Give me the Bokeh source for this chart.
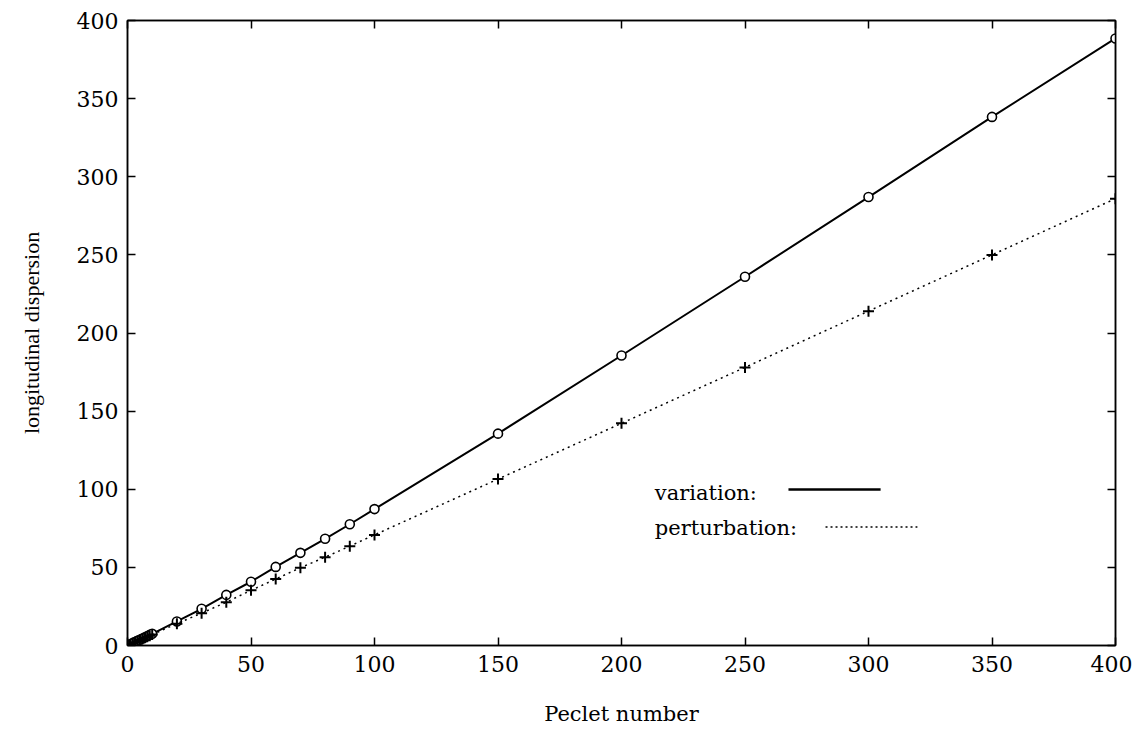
from bokeh.plotting import figure
from bokeh.models import LinearAxis, Range1d, FixedTicker, Label
from bokeh.embed import file_html
from bokeh.resources import INLINE

# Data
peclet = [1, 2, 3, 4, 5, 6, 7, 8, 9, 10, 20, 30, 40, 50, 60, 70, 80, 90, 100,
          150, 200, 250, 300, 350, 400]
variation = [0.7, 1.5, 2.2, 3.0, 3.7, 4.5, 5.2, 6.0, 6.8, 7.5, 15.4, 23.5, 32.4,
             40.8, 50.3, 59.3, 68.3, 77.6, 87.3, 135.6, 185.6, 236.0, 287.0,
             338.3, 388.5]
perturbation = [0.7, 1.4, 2.1, 2.8, 3.5, 4.2, 4.9, 5.6, 6.3, 7.0, 14.0, 20.7, 27.7,
                35.3, 42.5, 49.8, 56.5, 63.6, 70.8, 106.5, 142.2, 178.0, 214.0,
                250.0, 286.0]
ticks = [0, 50, 100, 150, 200, 250, 300, 350, 400]

SERIF = "DejaVu Serif"

p = figure(width=1132, height=732, output_backend="svg", toolbar_location=None,
           x_range=Range1d(0, 400), y_range=Range1d(0, 400),
           min_border_left=127, min_border_right=17, min_border_top=20,
           min_border_bottom=87)
p.grid.visible = False
p.outline_line_color = "black"
p.outline_line_width = 1.5
p.background_fill_color = "white"
p.border_fill_color = "white"

for ax in (p.xaxis[0], p.yaxis[0]):
    ax.ticker = FixedTicker(ticks=ticks)
    ax.major_tick_in = 8
    ax.major_tick_out = 0
    ax.minor_tick_line_color = None
    ax.axis_line_color = "black"
    ax.axis_line_width = 1.5
    ax.major_tick_line_width = 1.5
    ax.major_label_text_font = SERIF
    ax.major_label_text_font_size = "22px"
    ax.major_label_text_color = "black"
    ax.axis_label_text_font_style = "normal"
    ax.axis_label_text_color = "black"

p.xaxis.axis_label = "Peclet number"
p.xaxis.axis_label_text_font = SERIF
p.xaxis.axis_label_text_font_size = "21px"
p.xaxis.major_label_standoff = 10
p.xaxis.axis_label_standoff = 27

p.yaxis.axis_label = "longitudinal dispersion"
p.yaxis.axis_label_text_font = "Liberation Serif"
p.yaxis.axis_label_text_font_size = "22px"
p.yaxis.major_label_standoff = 9
p.yaxis.axis_label_standoff = 30

for loc in ("right", "above"):
    ax = LinearAxis(ticker=FixedTicker(ticks=ticks), major_tick_in=8, major_tick_out=0,
                    minor_tick_line_color=None, axis_line_color="black",
                    axis_line_width=1.5, major_tick_line_width=1.5,
                    major_label_overrides={t: "" for t in ticks},
                    major_label_standoff=0)
    p.add_layout(ax, loc)

# Series
p.line(peclet, variation, line_color="black", line_width=2)
p.scatter(peclet, variation, marker="circle", size=9, fill_color="white",
          line_color="black", line_width=1.6)
p.line(peclet, perturbation, line_color="black", line_width=1.5, line_dash="2 4")
p.scatter(peclet, perturbation, marker="cross", size=11, line_color="black",
          line_width=2)

# Key (label first, sample after, as in the reference)
p.add_layout(Label(x=213.5, y=97.3, text="variation:", text_font=SERIF,
                   text_font_size="21px", text_color="black",
                   text_baseline="alphabetic"))
p.add_layout(Label(x=213.5, y=75.0, text="perturbation:", text_font=SERIF,
                   text_font_size="21px", text_color="black",
                   text_baseline="alphabetic"))
p.line([267.6, 304.9], [99.8, 99.8], line_color="black", line_width=2.5)
p.line([282.6, 319.8], [75.8, 75.8], line_color="black", line_width=1.5,
       line_dash="2 3")

open("out.html", "w").write(file_html(p, INLINE))
